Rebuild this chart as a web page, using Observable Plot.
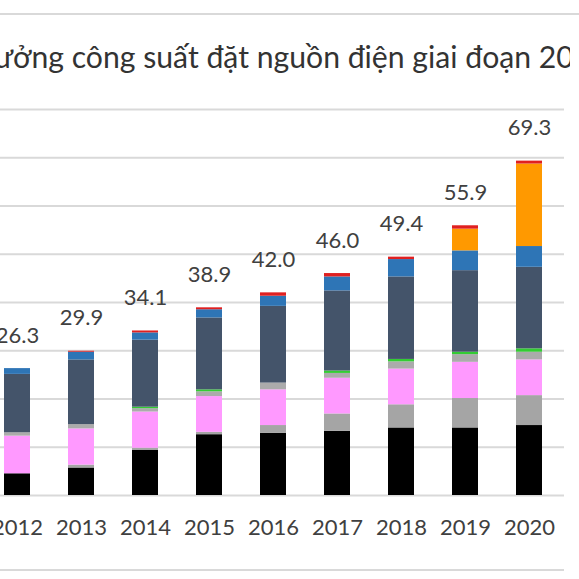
<!DOCTYPE html>
<html>
<head>
<meta charset="utf-8">
<script src="https://cdn.jsdelivr.net/npm/d3@7"></script>
<script src="https://cdn.jsdelivr.net/npm/@observablehq/plot@0.6"></script>
<style>
  html, body { margin: 0; padding: 0; background: #fff; }
  #page { position: relative; width: 579px; height: 579px; overflow: hidden; background: #fff; }
  .rule { position: absolute; left: 0; height: 2px; background: #d9d9d9; }
  #titleBox { position: absolute; left: 0; top: 0; width: 570px; height: 100px; overflow: hidden; }
  #title { position: absolute; white-space: nowrap; font-family: Lato, sans-serif; color: #333; }
  #chart { position: absolute; left: 0; top: 100px; }
</style>
</head>
<body>
<div id="page">
  <div class="rule" style="top:13px;width:579px"></div>
  <div id="titleBox"><div id="title"></div></div>
  <div id="chart"></div>
  <div class="rule" style="top:569px;width:564px"></div>
</div>
<script>
// ---- data ----
const years = ["2012", "2013", "2014", "2015", "2016", "2017", "2018", "2019", "2020"];
const totals = [26.3, 29.9, 34.1, 38.9, 42.0, 46.0, 49.4, 55.9, 69.3];

const seriesNames = [
  "Nhiệt điện than", "Nhiệt điện than BOT", "Tua bin khí", "Nhiệt điện dầu",
  "Nhập khẩu", "Thủy điện", "Thủy điện nhỏ", "Điện mặt trời", "Điện gió"
];
const seriesColors = ["#000000", "#a5a5a5", "#ff99ff", "#ababab", "#33cc33", "#44546a", "#2e75b6", "#ff9900", "#e02020"];

const coal      = [4.5, 5.7, 9.4, 12.6, 12.9, 13.3, 14.0, 14.0, 14.5];
const coalBot   = [0.0, 0.6, 0.4, 0.5, 1.6, 3.6, 4.8, 6.1, 6.2];
const gasTurb   = [7.8, 7.5, 7.5, 7.4, 7.4, 7.4, 7.4, 7.5, 7.4];
const oil       = [0.7, 0.9, 0.7, 1.0, 1.4, 1.0, 1.5, 1.6, 1.6];
const imports   = [0.0, 0.0, 0.3, 0.4, 0.0, 0.5, 0.5, 0.5, 0.7];
const hydro     = [12.1, 13.4, 13.9, 14.9, 15.9, 16.6, 17.1, 16.9, 16.9];
const smallHydro= [1.2, 1.6, 1.5, 1.7, 2.1, 2.9, 3.6, 4.1, 4.3];
const solar     = [0.0, 0.0, 0.0, 0.0, 0.0, 0.0, 0.0, 4.5, 17.1];
const wind      = [0.0, 0.2, 0.4, 0.4, 0.7, 0.7, 0.5, 0.7, 0.6];

const seriesValues = [coal, coalBot, gasTurb, oil, imports, hydro, smallHydro, solar, wind];
const yTicks = [0, 10, 20, 30, 40, 50, 60, 70, 80];
const titleText = "Tăng trưởng công suất đặt nguồn điện giai đoạn 2011-2020";

// ---- tidy table ----
const rows = [];
seriesNames.forEach((name, s) => {
  years.forEach((yr, i) => {
    const v = seriesValues[s][i];
    if (v > 0) rows.push({year: yr, series: name, value: v});
  });
});
const totalRows = years.map((yr, i) => ({year: yr, total: totals[i]}));

// ---- title (cropped like the reference) ----
(function placeTitle() {
  const el = document.getElementById("title");
  el.textContent = titleText;
  const ctx = document.createElement("canvas").getContext("2d");
  const visible = "ưởng công suất đặt nguồn điện giai đoạn 20";
  const prefix = "Tăng tr";
  ctx.font = "100px Lato";
  const wv = ctx.measureText(visible).width;
  const size = 100 * 580 / wv;
  ctx.font = size + "px Lato";
  const wp = ctx.measureText(prefix).width;
  el.style.fontSize = size + "px";
  el.style.lineHeight = size + "px";
  el.style.left = (-6 - wp) + "px";
  el.style.top = (68 - 0.887 * size) + "px";
})();

// ---- chart ----
const chart = Plot.plot({
  width: 579,
  height: 479,
  marginLeft: 0,
  marginRight: 15,
  marginTop: 9,
  marginBottom: 84,
  style: {fontFamily: "Lato, sans-serif", fontSize: "22px", color: "#404040", background: "#fff"},
  x: {type: "band", domain: years, paddingInner: 0.596, paddingOuter: 0.177, align: 0.16, label: null},
  y: {domain: [0, 80], axis: null},
  color: {domain: seriesNames, range: seriesColors},
  marks: [
    Plot.gridY({ticks: yTicks, stroke: "#d9d9d9", strokeOpacity: 1, strokeWidth: 2}),
    Plot.barY(rows, {x: "year", y: "value", fill: "series", order: null}),
    Plot.text(totalRows, {x: "year", y: "total", text: d => d.total.toFixed(1), dy: -33, fontSize: 22, fill: "#404040"}),
    Plot.axisX({tickSize: 0, tickPadding: 24, fontSize: 22, label: null})
  ]
});
document.getElementById("chart").appendChild(chart);
</script>
</body>
</html>
